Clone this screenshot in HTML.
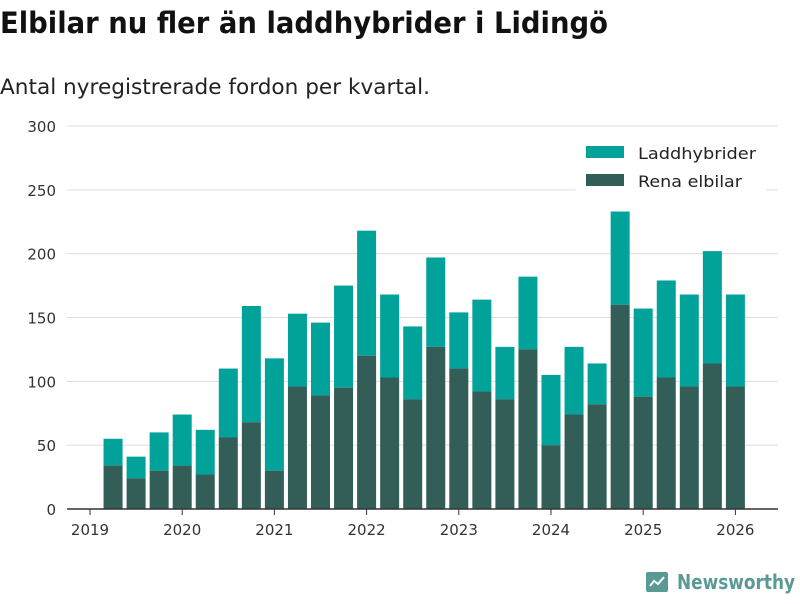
<!DOCTYPE html>
<html><head><meta charset="utf-8"><style>
body{margin:0;width:800px;height:600px;background:#fff;font-family:"DejaVu Sans","Liberation Sans",sans-serif;overflow:hidden}
</style></head><body>
<svg id="chart" width="800" height="600" xmlns="http://www.w3.org/2000/svg" font-family="DejaVu Sans, Liberation Sans, sans-serif">
<text x="0" y="33" font-size="29" font-weight="bold" fill="#111" textLength="608" lengthAdjust="spacingAndGlyphs">Elbilar nu fler än laddhybrider i Lidingö</text>
<text x="0" y="94" font-size="21" fill="#222" textLength="430" lengthAdjust="spacingAndGlyphs">Antal nyregistrerade fordon per kvartal.</text>
<g id="grid"></g><g id="bars"></g><g id="axes"></g>
<g>
<rect x="576" y="138" width="190" height="58" fill="#fff"/>
<g><rect x="586" y="146" width="38" height="12" fill="#00a29a"/><text x="638" y="159" font-size="16" fill="#222" textLength="118" lengthAdjust="spacingAndGlyphs">Laddhybrider</text></g>
<g><rect x="586" y="174" width="38" height="12" fill="#335e58"/><text x="638" y="187" font-size="16" fill="#222" textLength="104" lengthAdjust="spacingAndGlyphs">Rena elbilar</text></g>
</g>
<g>
<rect x="646" y="572" width="22" height="20" rx="2" fill="#5a9a94"/>
<path d="M650 586 l4 -5 l4 3 l6 -7" stroke="#fff" stroke-width="2" fill="none"/>
<text x="677" y="589" font-size="20" font-weight="bold" fill="#5a9a94" textLength="118" lengthAdjust="spacingAndGlyphs">Newsworthy</text>
</g>
</svg>
<script>
const periods=[2019.25,2019.5,2019.75,2020,2020.25,2020.5,2020.75,2021,2021.25,2021.5,2021.75,2022,2022.25,2022.5,2022.75,2023,2023.25,2023.5,2023.75,2024,2024.25,2024.5,2024.75,2025,2025.25,2025.5,2025.75,2026];
const elbilar=[34,24,30,34,27,56,68,30,96,89,95,120,103,86,127,110,92,86,125,50,74,82,160,88,103,96,114,96];
const totals=[55,41,60,74,62,110,159,118,153,146,175,218,168,143,197,154,164,127,182,105,127,114,233,157,179,168,202,168];
const yTicks=[0,50,100,150,200,250,300];
const xTicks=[2019,2020,2021,2022,2023,2024,2025,2026];
const NS="http://www.w3.org/2000/svg";
const x=v=>90+(v-2019)*92.2;
const y=v=>509-v*(383/300);
function mk(t,a,p){const e=document.createElementNS(NS,t);for(const k in a)e.setAttribute(k,a[k]);p.appendChild(e);return e;}
const grid=document.getElementById('grid'),bars=document.getElementById('bars'),axes=document.getElementById('axes');
yTicks.forEach(v=>{
 if(v>0){const l=mk('line',{x1:67,x2:778,y1:y(v),y2:y(v),stroke:'#ddd','stroke-width':1},grid);
 
 }
 const t=mk('text',{x:56,y:y(v)+6,'font-size':15,fill:'#333','text-anchor':'end'},axes);t.textContent=v;
 
 
});
const base=mk('line',{x1:67,x2:778,y1:509,y2:509,stroke:'#333','stroke-width':1.5},axes);


xTicks.forEach(v=>{
 mk('line',{x1:x(v),x2:x(v),y1:509,y2:515,stroke:'#333'},axes);
 const t=mk('text',{x:x(v),y:535,'font-size':15,fill:'#333','text-anchor':'middle'},axes);t.textContent=v;
 
 
});
periods.forEach((p,i)=>{
 const cx=x(p),w=19;
 const r1=mk('rect',{x:cx-w/2,y:y(totals[i]),width:w,height:y(elbilar[i])-y(totals[i]),fill:'#00a29a'},bars);
 
 
 const r2=mk('rect',{x:cx-w/2,y:y(elbilar[i]),width:w,height:509-y(elbilar[i]),fill:'#335e58'},bars);
 
 
});
</script>
</body></html>
